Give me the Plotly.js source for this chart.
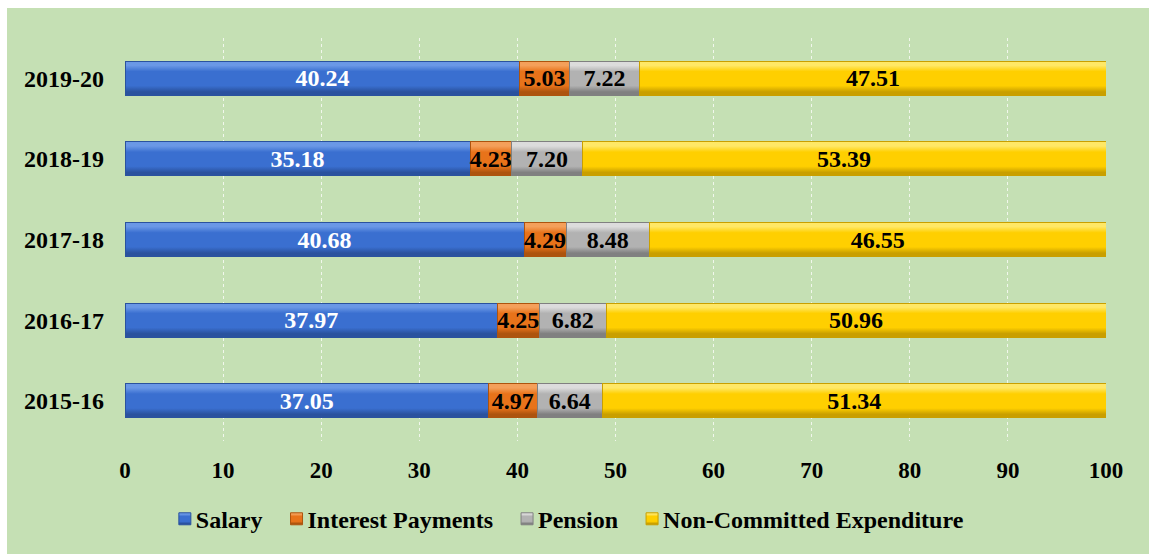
<!DOCTYPE html>
<html>
<head>
<meta charset="utf-8">
<script src="https://cdn.plot.ly/plotly-3.0.1.min.js"></script>
<style>
html,body{margin:0;padding:0;background:#ffffff;}
#chart{position:absolute;left:7px;top:8px;width:1142px;height:546px;}
</style>
</head>
<body>
<div id="chart"></div>
<script>
var years = ["2015-16", "2016-17", "2017-18", "2018-19", "2019-20"];
var salary = [37.05, 37.97, 40.68, 35.18, 40.24];
var interest = [4.97, 4.25, 4.29, 4.23, 5.03];
var pension = [6.64, 6.82, 8.48, 7.20, 7.22];
var nonCommitted = [51.34, 50.96, 46.55, 53.39, 47.51];
var xTicks = [0, 10, 20, 30, 40, 50, 60, 70, 80, 90, 100];
var seriesNames = ["Salary", "Interest Payments", "Pension", "Non-Committed Expenditure"];

var FONT = '"Liberation Serif", "Times New Roman", serif';

// light, main, dark shades per series
var shades = [
  ["#6a98e6", "#3a6fd0", "#2a529e"],
  ["#f4a05a", "#e8731a", "#ad540e"],
  ["#dcdcdc", "#b2b2b2", "#808080"],
  ["#ffe866", "#ffcf00", "#c99f00"]
];

function mk(i, vals, textColor) {
  return {
    type: "bar",
    orientation: "h",
    name: seriesNames[i],
    y: years,
    x: vals,
    text: vals.map(function (v) { return v.toFixed(2); }),
    textposition: "inside",
    insidetextanchor: "middle",
    constraintext: "none",
    textfont: {family: FONT, size: 24, color: textColor, weight: "bold"},
    marker: {color: shades[i][1], line: {color: shades[i][2], width: 1}},
    hoverinfo: "x+name"
  };
}

var data = [
  mk(0, salary, "#ffffff"),
  mk(1, interest, "#000000"),
  mk(2, pension, "#000000"),
  mk(3, nonCommitted, "#000000")
];

var layout = {
  barmode: "stack",
  bargap: 0.58,
  paper_bgcolor: "#c5e0b4",
  plot_bgcolor: "#c5e0b4",
  margin: {l: 118, r: 43, t: 30, b: 111},
  font: {family: FONT, size: 23, color: "#000000", weight: "bold"},
  showlegend: true,
  legend: {
    orientation: "h",
    x: 0.455, xanchor: "center",
    y: -0.194, yanchor: "middle",
    font: {family: FONT, size: 24, color: "#000000", weight: "bold"},
    traceorder: "normal",
    itemwidth: 30,
    bgcolor: "rgba(0,0,0,0)"
  },
  xaxis: {
    range: [0, 100],
    tickvals: xTicks,
    ticktext: xTicks.map(String),
    showgrid: true,
    gridcolor: "rgba(255,255,255,0.75)",
    griddash: "dot",
    gridwidth: 1,
    zeroline: false,
    showline: false,
    ticks: "",
    ticklabelstandoff: 13,
    tickfont: {family: FONT, size: 23, color: "#000000", weight: "bold"},
    fixedrange: true
  },
  yaxis: {
    type: "category",
    categoryorder: "array",
    categoryarray: years,
    showgrid: false,
    zeroline: false,
    showline: false,
    ticks: "",
    ticklabelstandoff: 20,
    tickfont: {family: FONT, size: 24, color: "#000000", weight: "bold"},
    fixedrange: true
  }
};

function addBevel(gd) {
  var svg = gd.querySelector(".main-svg");
  if (!svg) return;
  var defs = svg.querySelector("defs");
  var NS = "http://www.w3.org/2000/svg";
  shades.forEach(function (s, i) {
    var id = "bevel" + i;
    if (defs.querySelector("#" + id)) return;
    var g = document.createElementNS(NS, "linearGradient");
    g.setAttribute("id", id);
    g.setAttribute("x1", "0"); g.setAttribute("y1", "0");
    g.setAttribute("x2", "0"); g.setAttribute("y2", "1");
    [[0, s[0]], [0.12, s[0]], [0.3, s[1]], [0.72, s[1]], [0.9, s[2]], [1, s[2]]].forEach(function (st) {
      var e = document.createElementNS(NS, "stop");
      e.setAttribute("offset", st[0]);
      e.setAttribute("stop-color", st[1]);
      g.appendChild(e);
    });
    defs.appendChild(g);
  });
  gd.querySelectorAll(".barlayer .trace").forEach(function (t, i) {
    t.querySelectorAll(".point path").forEach(function (p) {
      p.style.fill = "url(#bevel" + i + ")";
    });
  });
  gd.querySelectorAll(".legend .traces").forEach(function (t, i) {
    t.querySelectorAll(".legendpoints path").forEach(function (p) {
      p.style.fill = "url(#bevel" + i + ")";
    });
    var txt = t.querySelector("text.legendtext");
    if (txt) {
      var x = parseFloat(txt.getAttribute("x")) || 0;
      txt.setAttribute("x", x - 9);
    }
  });
}

Plotly.newPlot("chart", data, layout, {displayModeBar: false, responsive: false}).then(function (gd) {
  addBevel(gd);
});
</script>
</body>
</html>
